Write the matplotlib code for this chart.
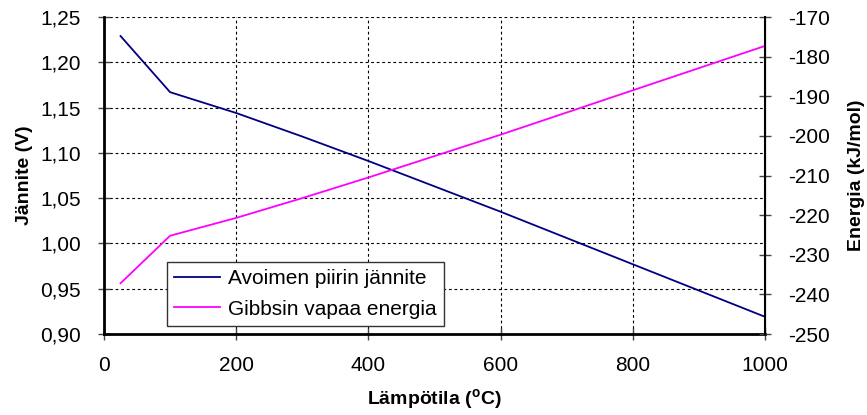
import matplotlib
matplotlib.use("Agg")
import matplotlib.pyplot as plt
from matplotlib.ticker import FuncFormatter, MultipleLocator

plt.rcParams['font.family'] = ['Liberation Sans', 'DejaVu Sans']
plt.rcParams['axes.unicode_minus'] = False

# Temperature (°C)
temperature = [25, 100, 200, 300, 400, 500, 600, 700, 800, 900, 1000]
# Open-circuit voltage (V)
voltage = [1.229, 1.167, 1.144, 1.118, 1.091, 1.063, 1.035, 1.006, 0.977, 0.948, 0.919]
# Gibbs free energy (kJ/mol)
gibbs = [-237.2, -225.2, -220.7, -215.7, -210.5, -205.1, -199.7, -194.1, -188.5, -182.9, -177.3]

label_voltage = "Avoimen piirin jännite"
label_gibbs = "Gibbsin vapaa energia"

fig = plt.figure(figsize=(8.67, 4.15), dpi=100)
ax = fig.add_axes([104 / 867, 1 - 334 / 415, (765 - 104) / 867, (334 - 17) / 415])
ax2 = ax.twinx()

l1, = ax.plot(temperature, voltage, color="#000080", lw=1.3)
l2, = ax2.plot(temperature, gibbs, color="#FF00FF", lw=1.3)

ax.set_xlim(0, 1000)
ax.set_ylim(0.90, 1.25)
ax2.set_ylim(-250, -170)
ax.xaxis.set_major_locator(MultipleLocator(200))
ax.yaxis.set_major_locator(MultipleLocator(0.05))
ax2.yaxis.set_major_locator(MultipleLocator(10))
ax.yaxis.set_major_formatter(FuncFormatter(lambda v, p: f"{v:.2f}".replace(".", ",")))

ax.grid(True, color="black", linestyle=(0, (2.5, 2.5)), linewidth=0.8)
ax.set_axisbelow(True)

for a in (ax, ax2):
    a.spines['top'].set_visible(False)
    a.tick_params(labelsize=15, direction='inout', length=9, width=1, colors='#444444', labelcolor='black')
ax.spines['left'].set_linewidth(2)
ax.spines['bottom'].set_linewidth(2)
ax2.spines['left'].set_visible(False)
ax2.spines['bottom'].set_visible(False)
ax2.spines['right'].set_linewidth(1.5)
ax.tick_params(axis='x', pad=11)
ax.tick_params(axis='y', pad=12)
ax2.tick_params(axis='y', pad=12)

ax.set_xlabel("Lämpötila ($\\mathregular{^o}$C)", fontsize=14, fontweight='bold', labelpad=9)
ax.set_ylabel("Jännite (V)", fontsize=14, fontweight='bold', labelpad=5)
ax2.set_ylabel("Energia (kJ/mol)", fontsize=14, fontweight='bold', labelpad=13)

leg = ax.legend([l1, l2], [label_voltage, label_gibbs], loc='lower left',
                bbox_to_anchor=(0.095, 0.025), fontsize=15, frameon=True,
                fancybox=False, edgecolor='#333333', framealpha=1,
                handlelength=2.2, borderpad=0.35, labelspacing=0.55, handletextpad=0.4,
                borderaxespad=0.0)
leg.get_frame().set_linewidth(1.0)
leg.set_zorder(10)

fig.savefig("out.png", dpi=100)
